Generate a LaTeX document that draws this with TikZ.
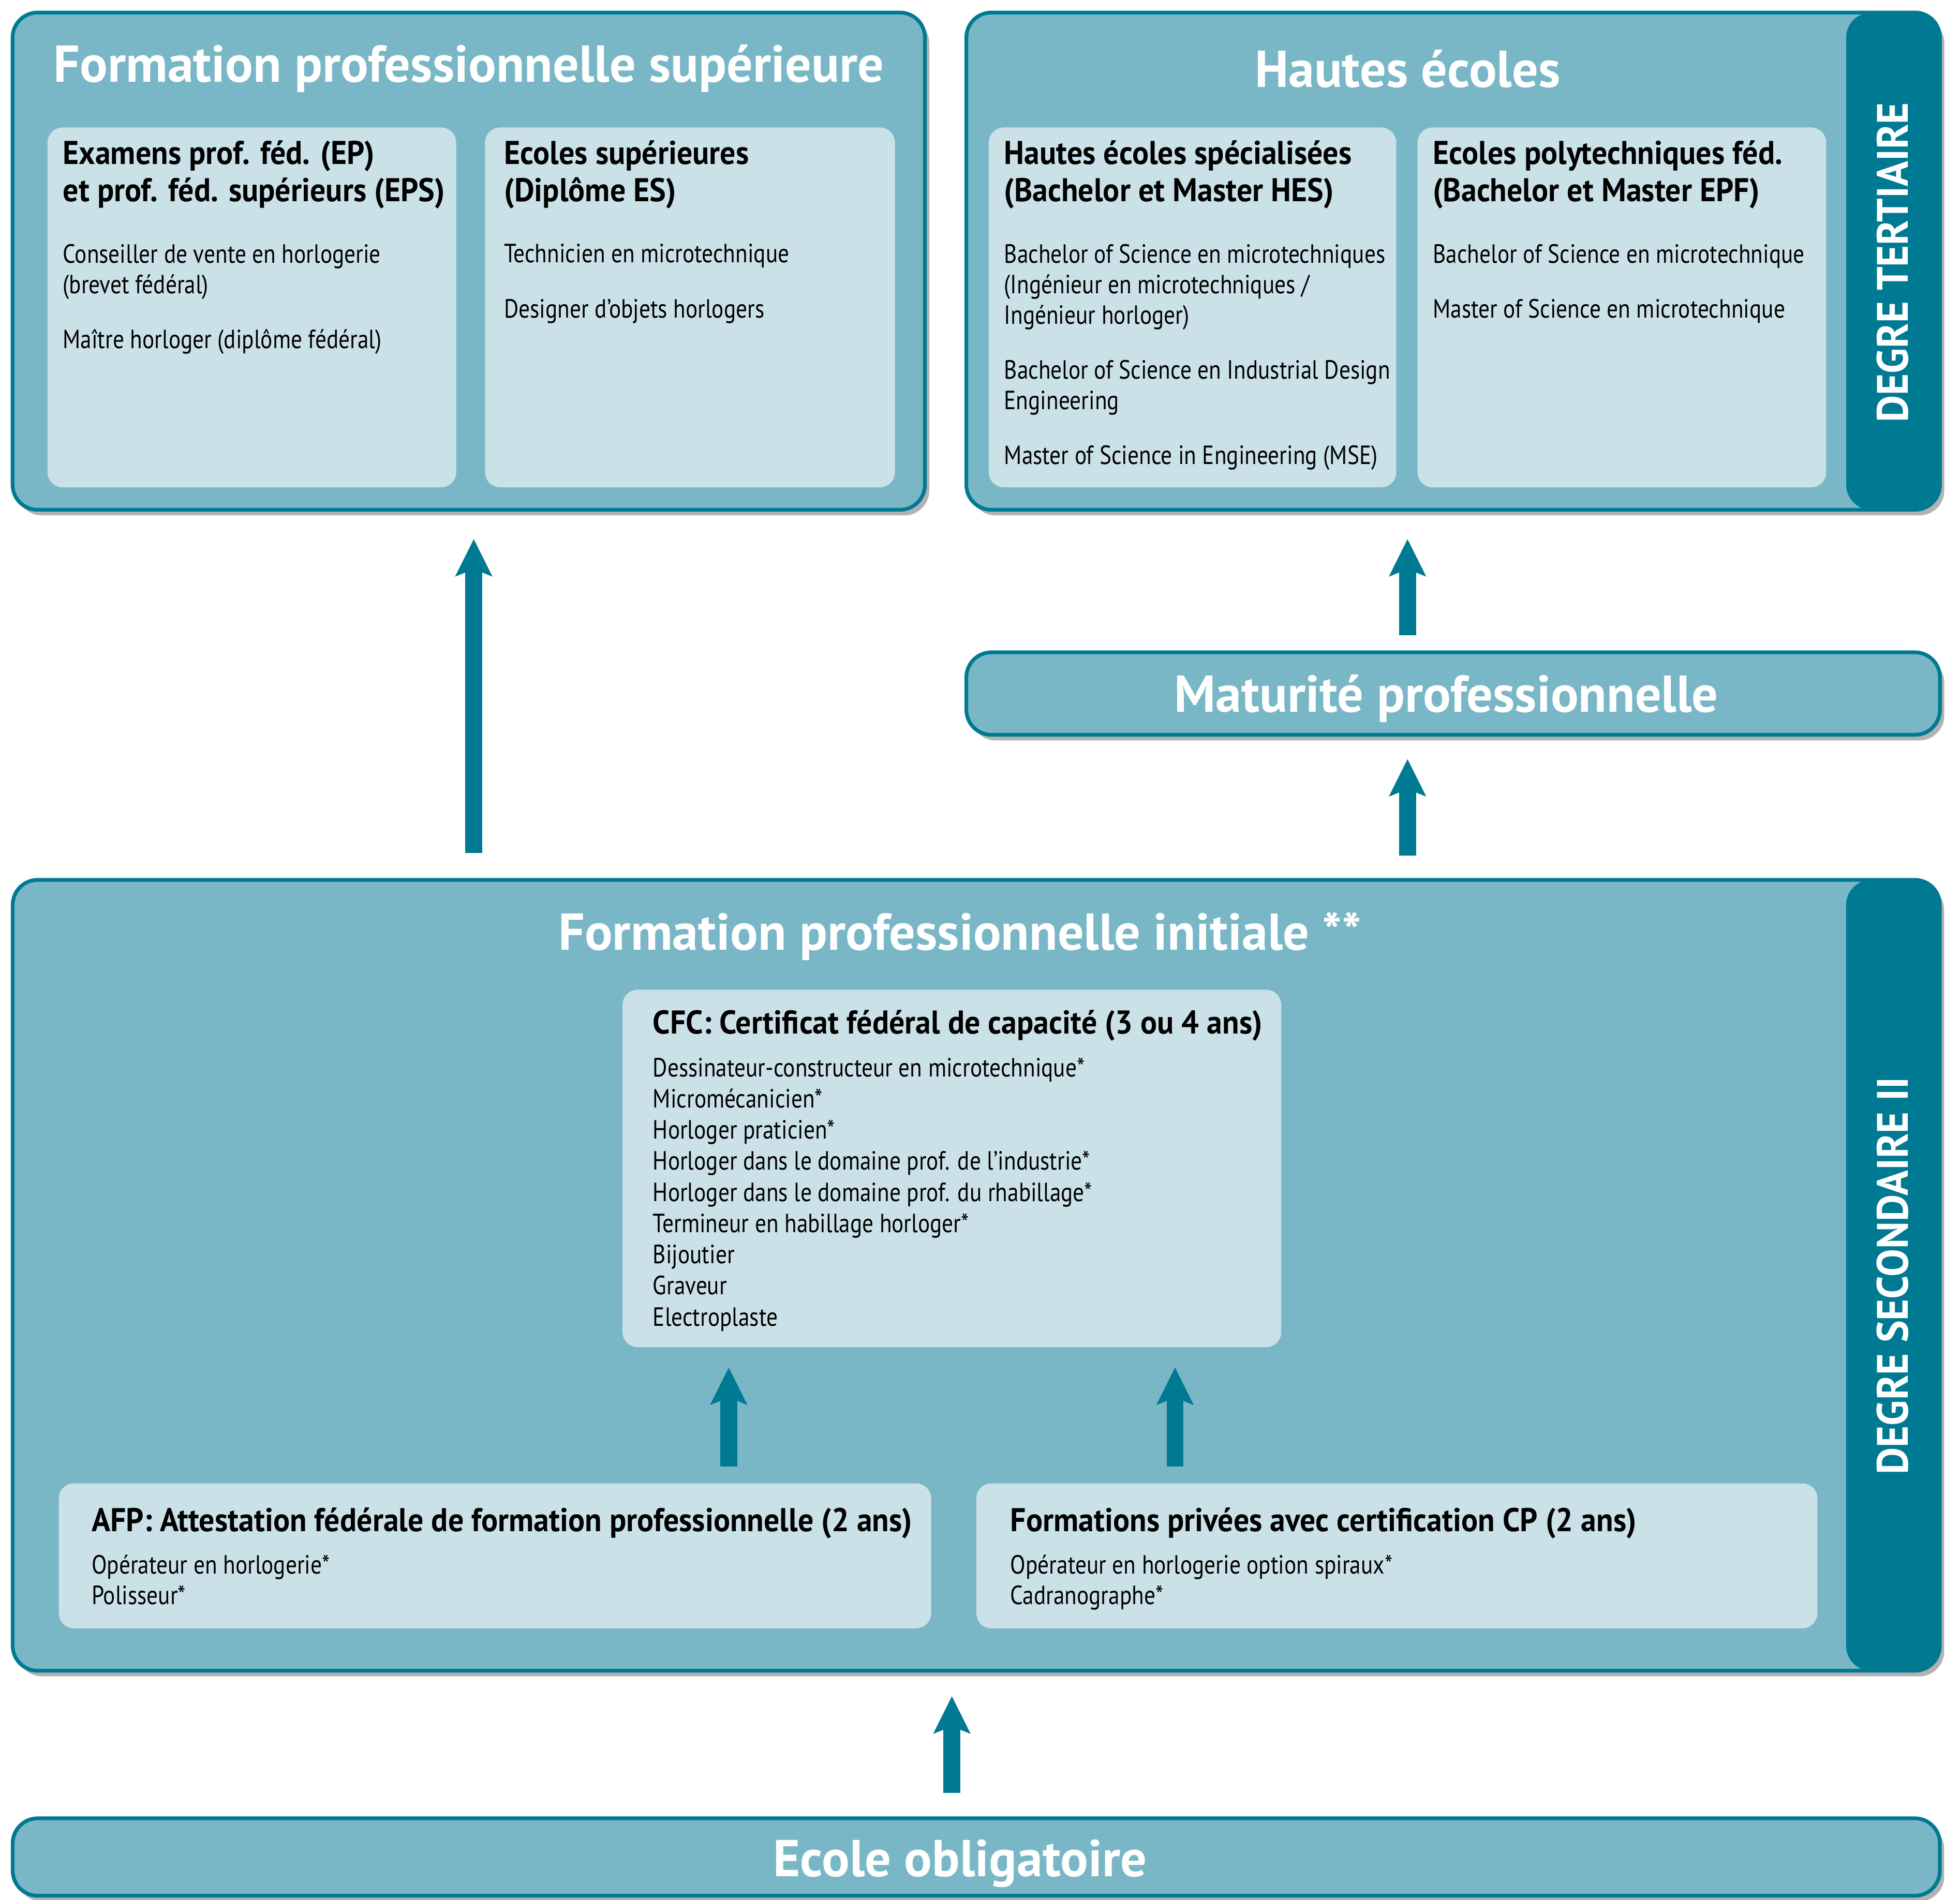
\documentclass[tikz,border=0pt]{standalone}
\usepackage{fontspec}
\setmainfont[FakeStretch=0.85]{PT Sans}
\newfontfamily\headfont[FakeStretch=0.94]{PT Sans}
\newfontfamily\titlefont{PT Sans}
\newfontfamily\sidefont[FakeStretch=0.95]{PT Sans}
\usetikzlibrary{positioning,calc,arrows.meta,shadows}

\definecolor{tealdark}{RGB}{0,122,146}
\definecolor{tealmid}{RGB}{121,183,199}
\definecolor{teallight}{RGB}{203,225,232}

\tikzset{
	level/.style={draw=tealdark, line width=1.7pt, fill=tealmid, rounded corners=0.4cm,
		drop shadow={shadow xshift=0.07cm, shadow yshift=-0.09cm, opacity=0.3, fill=black}},
	sidebar/.style={path picture={\fill[tealdark] ([xshift=-1.5cm]path picture bounding box.north east) rectangle (path picture bounding box.south east);}},
	card/.style={fill=teallight, rounded corners=0.24cm},
	title/.style={text=white, inner sep=0, font=\titlefont\bfseries\fontsize{23.6}{28}\selectfont},
	head/.style={anchor=north west, align=left, inner sep=0, font=\headfont\bfseries\fontsize{15}{17}\selectfont},
	body/.style={anchor=north west, align=left, inner sep=0, font=\fontsize{12}{13.9}\selectfont},
	degree/.style={text=white, rotate=90, inner sep=0, font=\sidefont\bfseries\fontsize{20}{24}\selectfont},
	flow/.style={draw=tealdark, line width=0.27cm, -{Stealth[length=0.6cm, width=0.6cm, inset=0.12cm, line width=0pt]}}
}

\begin{document}
\begin{tikzpicture}[x=0.02cm, y=-0.02cm]
	\useasboundingbox (0,0) rectangle (1568,1520);

	% Degre tertiaire: formation professionnelle superieure
	\node[level, minimum width=14.6cm, minimum height=7.96cm] (fps) at (375,209) {};
	\node[title] (fps-t) at (375,55) {Formation professionnelle supérieure};
	\node[card, minimum width=6.54cm, minimum height=5.76cm] (ep) at (201.5,246) {};
	\node[head] (ep-h) at (50,112) {Examens prof. féd. (EP)\\et prof. féd. supérieurs (EPS)};
	\node[body] (ep-b) at (50,195) {Conseiller de vente en horlogerie\\(brevet fédéral)\\[0.39cm]Maître horloger (diplôme fédéral)};
	\node[card, minimum width=6.56cm, minimum height=5.76cm] (es) at (552,246) {};
	\node[head] (es-h) at (403,112) {Ecoles supérieures\\(Diplôme ES)};
	\node[body] (es-b) at (403,195) {Technicien en microtechnique\\[0.39cm]Designer d’objets horlogers};

	% Degre tertiaire: hautes ecoles
	\node[level, sidebar, minimum width=15.58cm, minimum height=7.96cm] (he) at (1162.5,209) {};
	\node[title] (he-t) at (1126,55) {Hautes écoles};
	\node[degree] (tert) at (1514,210) {DEGRE TERTIAIRE};
	\node[card, minimum width=6.52cm, minimum height=5.76cm] (hs) at (954,246) {};
	\node[head] (hs-h) at (803,112) {Hautes écoles spécialisées\\(Bachelor et Master HES)};
	\node[body] (hs-b) at (803,195) {Bachelor of Science en microtechniques\\(Ingénieur en microtechniques /\\Ingénieur horloger)\\[0.39cm]Bachelor of Science en Industrial Design\\Engineering\\[0.39cm]Master of Science in Engineering (MSE)};
	\node[card, minimum width=6.54cm, minimum height=5.76cm] (epf) at (1297.5,246) {};
	\node[head] (epf-h) at (1146,112) {Ecoles polytechniques féd.\\(Bachelor et Master EPF)};
	\node[body] (epf-b) at (1146,195) {Bachelor of Science en microtechnique\\[0.39cm]Master of Science en microtechnique};

	% Maturite professionnelle
	\node[level, minimum width=15.58cm, minimum height=1.32cm] (mat) at (1162.5,555) {};
	\node[title] (mat-t) at (1157,559) {Maturité professionnelle};

	% Degre secondaire II
	\node[level, sidebar, minimum width=30.84cm, minimum height=12.66cm] (fpi) at (781,1020.5) {};
	\node[title] (fpi-t) at (768,749) {Formation professionnelle initiale **};
	\node[degree] (sec) at (1514,1021) {DEGRE SECONDAIRE II};
	\node[card, minimum width=10.54cm, minimum height=5.72cm] (cfc) at (761.5,935) {};
	\node[head] (cfc-h) at (522,808) {CFC: Certificat fédéral de capacité (3 ou 4 ans)};
	\node[body, font=\fontsize{12}{14.2}\selectfont] (cfc-b) at (522,846) {Dessinateur-constructeur en microtechnique*\\Micromécanicien*\\Horloger praticien*\\Horloger dans le domaine prof. de l’industrie*\\Horloger dans le domaine prof. du rhabillage*\\Termineur en habillage horloger*\\Bijoutier\\Graveur\\Electroplaste};
	\node[card, minimum width=13.96cm, minimum height=2.32cm] (afp) at (396,1245) {};
	\node[head] (afp-h) at (73,1206) {AFP: Attestation fédérale de formation professionnelle (2 ans)};
	\node[body] (afp-b) at (73,1244) {Opérateur en horlogerie*\\Polisseur*};
	\node[card, minimum width=13.46cm, minimum height=2.32cm] (cp) at (1117.5,1245) {};
	\node[head] (cp-h) at (808,1206) {Formations privées avec certification CP (2 ans)};
	\node[body] (cp-b) at (808,1244) {Opérateur en horlogerie option spiraux*\\Cadranographe*};

	% Ecole obligatoire
	\node[level, minimum width=30.84cm, minimum height=1.24cm] (eco) at (781,1486) {};
	\node[title] (eco-t) at (768,1491) {Ecole obligatoire};

	% passerelles
	\coordinate (lk0) at (379,560);
	\coordinate (lk1) at (583,1130);
	\coordinate (lk2) at (940,1130);
	\draw[flow, shorten <=0.4cm, shorten >=0.44cm] (fpi.north -| lk0) -- (fps.south -| lk0);
	\draw[flow, shorten <=0.24cm, shorten >=0.44cm] (mat.north -| he-t) -- (he.south -| he-t);
	\draw[flow, shorten <=0.36cm, shorten >=0.36cm] (fpi.north -| he-t) -- (mat.south -| he-t);
	\draw[flow, shorten <=0.26cm, shorten >=0.32cm] (afp.north -| lk1) -- (cfc.south -| lk1);
	\draw[flow, shorten <=0.26cm, shorten >=0.32cm] (cp.north -| lk2) -- (cfc.south -| lk2);
	\draw[flow, shorten <=0.38cm, shorten >=0.38cm] (eco.north -| cfc.south) -- (fpi.south -| cfc.south);
\end{tikzpicture}
\end{document}
